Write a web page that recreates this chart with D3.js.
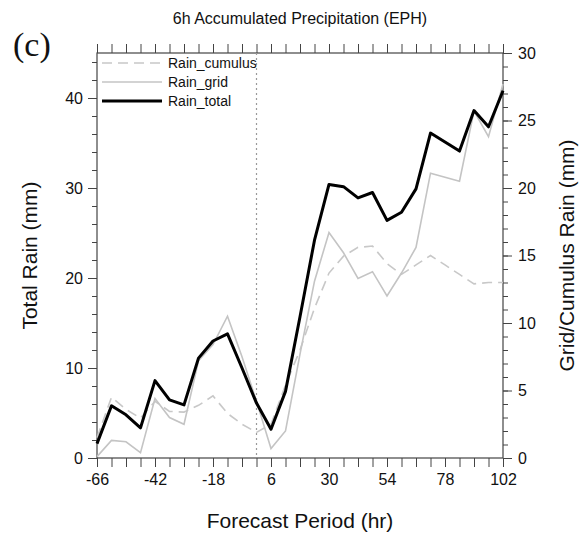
<!DOCTYPE html>
<html>
<head>
<meta charset="utf-8">
<script src="https://cdn.jsdelivr.net/npm/d3@7"></script>
<style>
  body { margin: 0; background: #fff; }
  svg text { font-family: "Liberation Sans", Arial, Helvetica, sans-serif; fill: #111; }
</style>
</head>
<body>
<svg id="chart" width="582" height="535"></svg>
<script>
// forecast hours (x) and the three series
var hours = [-66, -60, -54, -48, -42, -36, -30, -24, -18, -12, -6, 0, 6, 12, 18, 24, 30,
             36, 42, 48, 54, 60, 66, 72, 78, 84, 90, 96, 102];
// total rain, left axis (mm)
var rainTotal = [1.6, 5.8, 4.8, 3.35, 8.6, 6.45, 5.9, 11.1, 13.0, 13.8, 10.0, 6.1, 3.2, 7.4, 15.7,
                 24.2, 30.4, 30.15, 28.9, 29.5, 26.4, 27.3, 29.9, 36.1, 35.1, 34.1, 38.6, 36.8, 40.8];
// grid rain, right axis (mm)
var rainGrid = [0.1, 1.3, 1.2, 0.4, 4.4, 3.0, 2.5, 7.2, 8.4, 10.5, 7.5, 4.2, 0.7, 2.0, 7.7,
                13.1, 16.7, 15.2, 13.3, 13.8, 12.0, 13.7, 15.6, 21.1, 20.8, 20.5, 25.7, 23.8, 27.7];
// cumulus rain, right axis (mm)
var rainCumulus = [1.5, 4.5, 3.6, 2.95, 4.2, 3.45, 3.4, 3.9, 4.6, 3.3, 2.5, 1.9, 2.5, 5.4, 8.0,
                   11.1, 13.7, 14.95, 15.6, 15.7, 14.4, 13.6, 14.3, 15.0, 14.3, 13.6, 12.9, 13.0, 13.0];

var xLabelTicks = [-66, -42, -18, 6, 30, 54, 78, 102];
var leftTicks = [0, 10, 20, 30, 40];
var rightTicks = [0, 5, 10, 15, 20, 25, 30];

var svg = d3.select("#chart");
var pLeft = 97, pRight = 503, pTop = 53, pBottom = 458;

var x = d3.scaleLinear().domain([-66, 102]).range([pLeft, pRight]);
var yL = d3.scaleLinear().domain([0, 45]).range([pBottom, pTop]);
var yR = d3.scaleLinear().domain([0, 30]).range([pBottom, pTop]);

var axisColor = "#444";

function styleAxis(g) {
  g.select(".domain").remove();
  g.selectAll(".tick line").attr("stroke", axisColor).attr("stroke-width", 1);
  g.selectAll(".tick text")
    .style("font-family", '"Liberation Sans", Arial, Helvetica, sans-serif')
    .style("font-size", "16px").attr("fill", "#111");
}

// bottom axis
svg.append("g")
  .attr("transform", "translate(0," + pBottom + ")")
  .call(d3.axisBottom(x).tickValues(hours).tickSizeInner(9).tickSizeOuter(0).tickPadding(7)
    .tickFormat(function(d) { return xLabelTicks.indexOf(d) >= 0 ? d : ""; }))
  .call(styleAxis);

// top axis (ticks only)
svg.append("g")
  .attr("transform", "translate(0," + pTop + ")")
  .call(d3.axisTop(x).tickValues(hours).tickSizeInner(9).tickSizeOuter(0).tickFormat(""))
  .call(styleAxis);

// left axis, minor then major
svg.append("g")
  .attr("transform", "translate(" + pLeft + ",0)")
  .call(d3.axisLeft(yL).tickValues(d3.range(0, 46, 2)).tickSizeInner(5).tickSizeOuter(0).tickFormat(""))
  .call(styleAxis);
svg.append("g")
  .attr("transform", "translate(" + pLeft + ",0)")
  .call(d3.axisLeft(yL).tickValues(leftTicks).tickSizeInner(9).tickSizeOuter(0).tickPadding(5))
  .call(styleAxis);

// right axis, minor then major
svg.append("g")
  .attr("transform", "translate(" + pRight + ",0)")
  .call(d3.axisRight(yR).tickValues(d3.range(0, 31, 1)).tickSizeInner(5).tickSizeOuter(0).tickFormat(""))
  .call(styleAxis);
svg.append("g")
  .attr("transform", "translate(" + pRight + ",0)")
  .call(d3.axisRight(yR).tickValues(rightTicks).tickSizeInner(9).tickSizeOuter(0).tickPadding(6))
  .call(styleAxis);

// frame
svg.append("rect")
  .attr("x", pLeft).attr("y", pTop)
  .attr("width", pRight - pLeft).attr("height", pBottom - pTop)
  .attr("fill", "none").attr("stroke", axisColor).attr("stroke-width", 1.2);

// dotted line at hour 0
svg.append("line")
  .attr("x1", x(0)).attr("x2", x(0))
  .attr("y1", pTop).attr("y2", pBottom)
  .attr("stroke", "#999").attr("stroke-width", 1.2)
  .attr("stroke-dasharray", "2,3");

var lineL = d3.line().x(function(d, i) { return x(hours[i]); }).y(function(d) { return yL(d); });
var lineR = d3.line().x(function(d, i) { return x(hours[i]); }).y(function(d) { return yR(d); });

svg.append("path").datum(rainCumulus)
  .attr("d", lineR).attr("fill", "none")
  .attr("stroke", "#c8c8c8").attr("stroke-width", 1.6).attr("stroke-dasharray", "10,6");

svg.append("path").datum(rainGrid)
  .attr("d", lineR).attr("fill", "none")
  .attr("stroke", "#c4c4c4").attr("stroke-width", 1.6);

svg.append("path").datum(rainTotal)
  .attr("d", lineL).attr("fill", "none")
  .attr("stroke", "#000").attr("stroke-width", 3).attr("stroke-linejoin", "round");

// legend
var legend = [
  { name: "Rain_cumulus", color: "#c8c8c8", width: 1.6, dash: "10,6" },
  { name: "Rain_grid", color: "#c4c4c4", width: 1.6, dash: null },
  { name: "Rain_total", color: "#000", width: 3, dash: null }
];
var lg = svg.append("g").attr("class", "legend");
legend.forEach(function(l, i) {
  var yy = 63 + i * 19;
  lg.append("line")
    .attr("x1", 102).attr("x2", 162).attr("y1", yy).attr("y2", yy)
    .attr("stroke", l.color).attr("stroke-width", l.width)
    .attr("stroke-dasharray", l.dash);
  lg.append("text")
    .attr("x", 168).attr("y", yy).attr("dy", "0.35em")
    .style("font-size", "14px")
    .text(l.name);
});

// titles
svg.append("text")
  .attr("x", (pLeft + pRight) / 2).attr("y", 24)
  .attr("text-anchor", "middle")
  .style("font-size", "16px")
  .text("6h Accumulated Precipitation (EPH)");

svg.append("text")
  .attr("x", 13).attr("y", 56)
  .style("font-family", '"Liberation Serif", "Times New Roman", serif')
  .style("font-size", "34px")
  .text("(c)");

svg.append("text")
  .attr("x", (pLeft + pRight) / 2).attr("y", 528)
  .attr("text-anchor", "middle")
  .style("font-size", "21px")
  .text("Forecast Period (hr)");

svg.append("text")
  .attr("transform", "translate(37," + (pTop + pBottom) / 2 + ") rotate(-90)")
  .attr("text-anchor", "middle")
  .style("font-size", "21px")
  .text("Total Rain (mm)");

svg.append("text")
  .attr("transform", "translate(574," + (pTop + pBottom) / 2 + ") rotate(-90)")
  .attr("text-anchor", "middle")
  .style("font-size", "21px")
  .text("Grid/Cumulus Rain (mm)");
</script>
</body>
</html>
